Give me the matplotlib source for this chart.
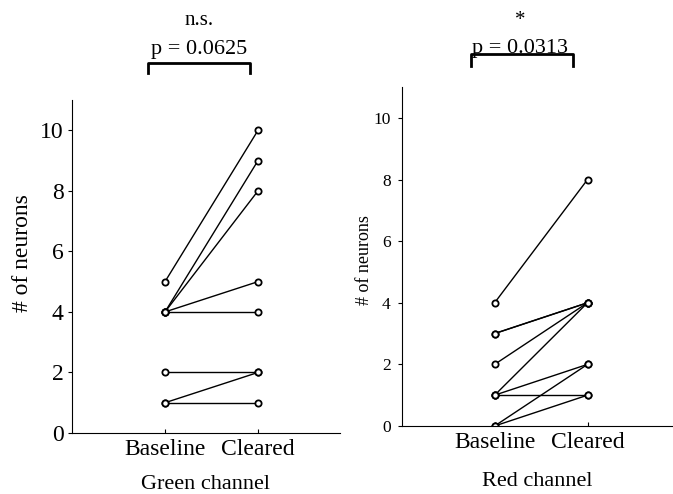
import matplotlib.pyplot as plt

plt.rcParams['font.family'] = ['Liberation Serif', 'DejaVu Serif']

# paired counts per field of view
green_baseline = [5, 4, 4, 4, 4, 2, 1, 1]
green_cleared = [10, 9, 8, 5, 4, 2, 2, 1]
red_baseline = [4, 3, 3, 2, 1, 1, 1, 0, 0]
red_cleared = [8, 4, 4, 4, 4, 2, 1, 2, 1]
conditions = ['Baseline', 'Cleared']
yticks = [0, 2, 4, 6, 8, 10]

fig = plt.figure(figsize=(6.73, 4.94), dpi=100)
ax1 = fig.add_axes([0.107, 0.1235, 0.398, 0.674])
ax2 = fig.add_axes([0.597, 0.1377, 0.403, 0.686])


def paired(ax, base, clr):
    for b, c in zip(base, clr):
        ax.plot([1, 2], [b, c], color='black', lw=1.0, marker='o', ms=4.5,
                mfc='white', mec='black', mew=1.3)
    ax.set_xticks([1, 2])
    ax.set_xticklabels(conditions)
    ax.set_yticks(yticks)
    ax.set_ylim(0, 11)
    for s in ['top', 'right']:
        ax.spines[s].set_visible(False)
    ax.tick_params(axis='x', direction='in', length=3, pad=4)
    ax.tick_params(axis='y', direction='out', length=3, pad=3)


paired(ax1, green_baseline, green_cleared)
ax1.set_xlim(0, 2.88)
ax1.tick_params(axis='y', labelsize=17)
ax1.tick_params(axis='x', labelsize=17)
ax1.set_ylabel('# of neurons', fontsize=17)
ax1.yaxis.set_label_coords(-0.145, 0.54)
ax1.set_xlabel('Green channel', fontsize=16, labelpad=11)

paired(ax2, red_baseline, red_cleared)
ax2.set_xlim(0, 2.92)
ax2.tick_params(axis='y', labelsize=12.5, pad=5)
ax2.tick_params(axis='x', labelsize=17)
ax2.set_ylabel('# of neurons', fontsize=13)
ax2.yaxis.set_label_coords(-0.105, 0.49)
ax2.set_xlabel('Red channel', fontsize=16, labelpad=14)

# significance brackets
ax1.plot([0.817, 0.817, 1.914, 1.914], [11.88, 12.24, 12.24, 11.88],
         color='black', lw=2, clip_on=False)
ax1.text(1.365, 12.35, 'p = 0.0625', ha='center', va='bottom', fontsize=16)
ax1.text(1.37, 13.3, 'n.s.', ha='center', va='bottom', fontsize=15)

ax2.plot([0.742, 0.742, 1.84, 1.84], [11.68, 12.07, 12.07, 11.68],
         color='black', lw=2, clip_on=False)
ax2.text(1.27, 11.95, 'p = 0.0313', ha='center', va='bottom', fontsize=16)
ax2.text(1.28, 12.85, '*', ha='center', va='bottom', fontsize=15)

fig.savefig('out.png', dpi=100)
